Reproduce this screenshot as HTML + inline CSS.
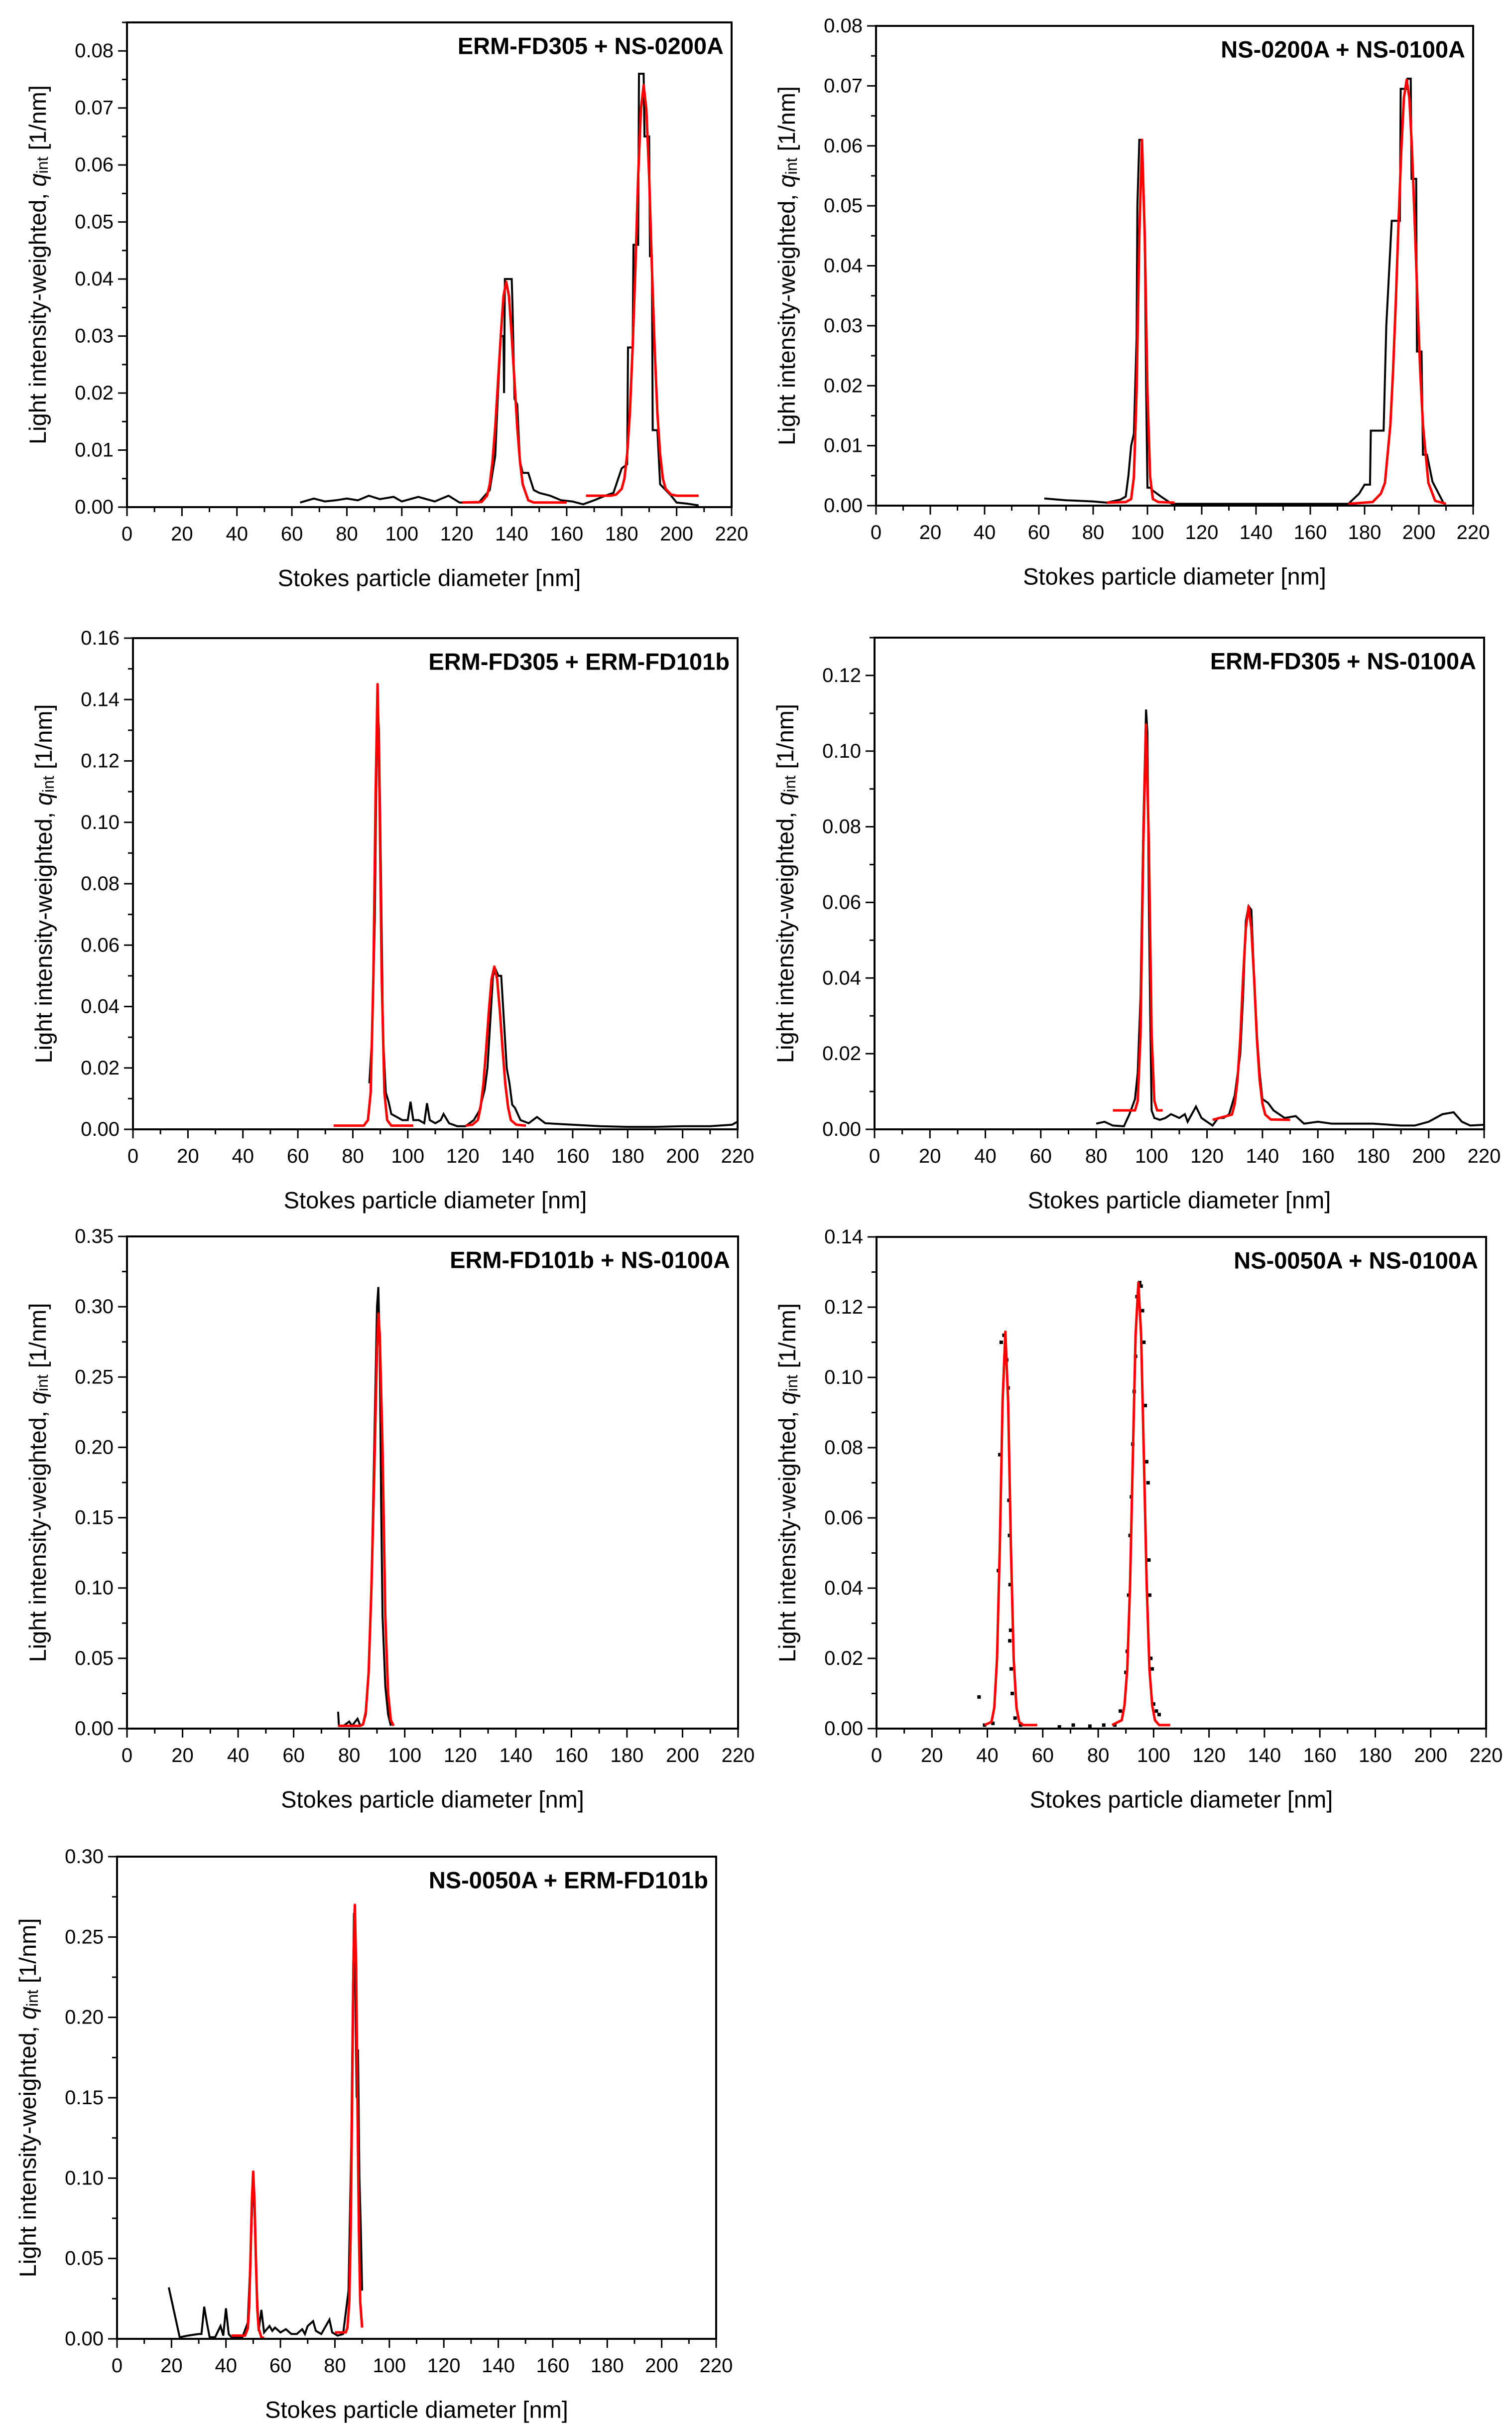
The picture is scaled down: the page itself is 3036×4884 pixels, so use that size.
<!DOCTYPE html>
<html><head><meta charset="utf-8">
<style>
html,body{margin:0;padding:0;background:#fff;}
svg{display:block;font-family:"Liberation Sans",Arial,sans-serif;}
</style></head>
<body>
<svg id="fig" width="3036" height="4884" viewBox="0 0 3036 4884" xmlns="http://www.w3.org/2000/svg"></svg>
<script>
// ---------- DATA (x = diameter nm, y = q_int 1/nm) ----------
const p1BlackX=[63,68,72,76,80,84,88,92,97,100,106,112,117,121,128,132,134,135,136,137,137.2,137.5,138,140,140.3,141,142,143,144,146,148,150,154,158,162,166,170,174,177,180,182,182.3,184,184.3,186,186.3,188,188.3,190,190.3,191,191.3,193,194,196,198,200,204,208];
const p1BlackY=[0.0008,0.0015,0.001,0.0012,0.0015,0.0012,0.002,0.0014,0.0018,0.001,0.0018,0.001,0.002,0.0008,0.0008,0.003,0.009,0.02,0.03,0.03,0.02,0.04,0.04,0.04,0.035,0.019,0.018,0.008,0.006,0.006,0.003,0.0025,0.002,0.0012,0.001,0.0005,0.0012,0.002,0.0025,0.0068,0.0075,0.028,0.028,0.046,0.046,0.076,0.076,0.065,0.065,0.044,0.044,0.0135,0.0135,0.004,0.003,0.002,0.0008,0.0006,0.0003];
const p1FitAX=[122,129,131,132,133,134,135,136,137,138,139,140,141,142,143,144,146,148,160];
const p1FitAY=[0.0008,0.0009,0.002,0.004,0.008,0.014,0.022,0.030,0.037,0.0395,0.037,0.030,0.022,0.014,0.008,0.004,0.0012,0.0008,0.0008];
const p1FitBX=[167,176,178,180,181,182,183,184,185,186,187,188,189,190,191,192,193,194,195,196,198,200,208];
const p1FitBY=[0.002,0.002,0.0022,0.0032,0.005,0.0093,0.0165,0.028,0.042,0.058,0.0697,0.074,0.0697,0.058,0.042,0.028,0.0165,0.0093,0.005,0.0032,0.0022,0.002,0.002];

const p2BlackX=[62,70,80,85,90,92,93,94,95,96,96.3,97,98,99,99.5,100,101,102,105,109,120,140,160,174,178,180,182,182.3,184,184.3,187,188,190,190.3,193,193.3,195.5,195.8,197,197.3,199,199.3,201,201.5,203,205,209];
const p2BlackY=[0.0012,0.0009,0.0007,0.0005,0.001,0.0015,0.005,0.01,0.012,0.028,0.05,0.061,0.061,0.045,0.02,0.003,0.003,0.0025,0.0015,0.0003,0.0003,0.0003,0.0003,0.0003,0.002,0.0035,0.0035,0.0125,0.0125,0.0125,0.0125,0.03,0.0475,0.0475,0.0475,0.0695,0.0695,0.0712,0.0712,0.0545,0.0545,0.0257,0.0257,0.0085,0.0085,0.004,0.0005];
const p2FitAX=[85,92,94,95,96,97,98,99,100,101,102,104,110];
const p2FitAY=[0.0005,0.0006,0.0011,0.0048,0.019,0.045,0.061,0.045,0.019,0.0048,0.0011,0.0006,0.0005];
const p2FitBX=[174,183,186,187.5,189.5,190.5,191.5,192.5,193.5,194.5,195.5,196.5,197.5,198.5,199.5,200.5,201.5,203.5,206,210];
const p2FitBY=[0.0003,0.0006,0.002,0.0038,0.0135,0.0225,0.034,0.047,0.059,0.068,0.071,0.068,0.059,0.047,0.034,0.0225,0.0135,0.0038,0.0008,0.0003];

const p3BlackX=[86,87,88,88.5,89,89.5,90,90.5,91,92,93,94,96,98,100,101,102,104,106,107,108,110,112,113,115,118,121,124,126,128,129,130,131,132,133,134,135,136,137,138,139,141,144,147,150,160,170,180,190,200,210,218,220];
const p3BlackY=[0.015,0.03,0.068,0.11,0.14,0.13,0.1,0.065,0.03,0.012,0.009,0.005,0.004,0.003,0.003,0.009,0.003,0.003,0.002,0.0085,0.003,0.002,0.003,0.005,0.002,0.001,0.001,0.003,0.006,0.013,0.02,0.035,0.05,0.052,0.05,0.05,0.035,0.02,0.015,0.008,0.007,0.003,0.002,0.004,0.002,0.0015,0.001,0.0008,0.0008,0.001,0.001,0.0015,0.0025];
const p3FitAX=[73,84,85.5,86.5,87.5,88.3,89,89.7,90.5,91.5,92.5,94,102];
const p3FitAY=[0.0012,0.0012,0.003,0.012,0.05,0.11,0.145,0.11,0.05,0.012,0.003,0.0012,0.0012];
const p3FitBX=[121,123.5,125.5,126.5,127.5,128.5,129.5,130.5,131.5,132.5,133.5,134.5,135.5,136.5,137.5,139.5,143];
const p3FitBY=[0.0012,0.0015,0.003,0.0072,0.0147,0.026,0.0385,0.049,0.053,0.049,0.0385,0.026,0.0147,0.0072,0.003,0.0015,0.0012];

const p4BlackX=[80,83,86,90,92,94,95,96,97,98,98.5,99,99.5,100,101,103,105,107,110,112,113,116,118,120,122,124,126,128,130,132,133,134,135,136,137,138,139,140,142,144,148,152,155,160,165,170,180,190,195,200,205,209,212,215,220];
const p4BlackY=[0.0015,0.002,0.001,0.0008,0.004,0.008,0.015,0.035,0.08,0.111,0.105,0.06,0.03,0.005,0.003,0.0025,0.003,0.004,0.003,0.004,0.002,0.006,0.003,0.002,0.001,0.003,0.003,0.004,0.009,0.02,0.035,0.055,0.059,0.058,0.04,0.025,0.015,0.008,0.007,0.005,0.003,0.0035,0.0015,0.002,0.0015,0.0015,0.0015,0.001,0.001,0.002,0.004,0.0045,0.002,0.001,0.0012];
const p4FitAX=[86,94,95,96,97,98,99,100,101,102,104];
const p4FitAY=[0.005,0.005,0.0075,0.025,0.0755,0.107,0.0755,0.025,0.0075,0.005,0.005];
const p4FitBX=[122,129,130,131,132,133,134,135,136,137,138,139,140,141,143,150];
const p4FitBY=[0.0025,0.0039,0.0068,0.013,0.024,0.04,0.053,0.059,0.053,0.04,0.024,0.013,0.0068,0.0039,0.0026,0.0025];

const p5BlackX=[76,76.3,78,80,81,83,84,85,86,87,88,89,90,90.5,91,91.5,92,93,94,95];
const p5BlackY=[0.012,0.002,0.002,0.005,0.002,0.007,0.002,0.003,0.01,0.04,0.1,0.2,0.3,0.314,0.27,0.16,0.08,0.03,0.01,0.002];
const p5FitX=[76,84,85,86,87,88,89,90,90.5,91,92,93,94,95,96];
const p5FitY=[0.002,0.002,0.003,0.012,0.04,0.1,0.18,0.27,0.295,0.28,0.2,0.08,0.025,0.006,0.002];

const p6DotsX=[37,39,42,44,44.5,45,46,47,47.5,47.8,48,48.2,48.4,48.1,48.6,49,50,52,66,71,77,82,86,88,90,90.5,91,91.5,92,92.5,93,93.5,94,95,95.5,96,96.5,97,97.5,98,98.3,98.6,99,99.5,100,101,102];
const p6DotsY=[0.009,0.001,0.0015,0.045,0.078,0.11,0.112,0.105,0.097,0.065,0.055,0.041,0.028,0.025,0.017,0.01,0.003,0.001,0.0005,0.001,0.0007,0.001,0.001,0.005,0.016,0.022,0.038,0.055,0.066,0.081,0.096,0.106,0.123,0.127,0.126,0.119,0.11,0.092,0.076,0.07,0.048,0.038,0.02,0.017,0.007,0.005,0.004];
const p6FitAX=[39,41.5,42.5,43.5,44.5,45.5,46.5,47.5,48.5,49.5,50.5,51.5,53,58];
const p6FitAY=[0.001,0.0019,0.006,0.02,0.052,0.093,0.113,0.093,0.052,0.02,0.006,0.0019,0.001,0.001];
const p6FitBX=[85,88.5,89.5,90.5,91.5,92.5,93.5,94.5,95.5,96.5,97.5,98.5,99.5,100.5,102,106];
const p6FitBY=[0.001,0.0024,0.0066,0.017,0.041,0.077,0.112,0.127,0.112,0.077,0.041,0.017,0.0066,0.0024,0.001,0.001];

const p7BlackX=[19,23,26,30,31,32,33,34,36,38,39,40,41,42,46,48,49,50,50.5,51,52,53,54,56,57,58,60,62,64,66,68,69,70,72,73,75,78,79,81,83,85,86,86.5,87,87.5,88,88.5,89,89.5,90];
const p7BlackY=[0.032,0.001,0.002,0.003,0.003,0.02,0.01,0.001,0.001,0.008,0.002,0.019,0.003,0.001,0.001,0.01,0.05,0.1,0.08,0.045,0.005,0.018,0.004,0.008,0.005,0.007,0.004,0.006,0.003,0.003,0.006,0.003,0.008,0.011,0.005,0.003,0.012,0.004,0.002,0.003,0.03,0.12,0.2,0.265,0.22,0.15,0.18,0.1,0.07,0.03];
const p7FitAX=[42,47,48,48.5,49,49.5,50,50.5,51,51.5,52,53,54];
const p7FitAY=[0.002,0.002,0.0064,0.019,0.049,0.085,0.104,0.085,0.049,0.019,0.0064,0.001,0.0005];
const p7FitBX=[80,84,84.6,85.3,85.8,86.3,86.8,87.3,87.8,88.3,88.8,89.3,90];
const p7FitBY=[0.004,0.004,0.007,0.023,0.068,0.146,0.232,0.27,0.232,0.146,0.068,0.023,0.007];

const panelTitles=["ERM-FD305 + NS-0200A","NS-0200A + NS-0100A","ERM-FD305 + ERM-FD101b","ERM-FD305 + NS-0100A","ERM-FD101b + NS-0100A","NS-0050A + NS-0100A","NS-0050A + ERM-FD101b"];
const yMaxes=[0.085,0.08,0.16,0.13,0.35,0.14,0.30];
const yMajorSteps=[0.01,0.01,0.02,0.02,0.05,0.02,0.05];
const xTicks=[0,20,40,60,80,100,120,140,160,180,200,220];

// ---------- LAYOUT (pixels) ----------
const layout=[
 {L:255,R:1469,T:45,B:1018},
 {L:1759,R:2958,T:52,B:1015},
 {L:267,R:1481,T:1281,B:2267},
 {L:1756,R:2980,T:1280,B:2267},
 {L:255,R:1482,T:2482,B:3470},
 {L:1760,R:2984,T:2483,B:3470},
 {L:235,R:1438,T:3727,B:4695}
];
const series=[
 {black:[p1BlackX,p1BlackY],fits:[[p1FitAX,p1FitAY],[p1FitBX,p1FitBY]]},
 {black:[p2BlackX,p2BlackY],fits:[[p2FitAX,p2FitAY],[p2FitBX,p2FitBY]]},
 {black:[p3BlackX,p3BlackY],fits:[[p3FitAX,p3FitAY],[p3FitBX,p3FitBY]]},
 {black:[p4BlackX,p4BlackY],fits:[[p4FitAX,p4FitAY],[p4FitBX,p4FitBY]]},
 {black:[p5BlackX,p5BlackY],fits:[[p5FitX,p5FitY]]},
 {dots:[p6DotsX,p6DotsY],fits:[[p6FitAX,p6FitAY],[p6FitBX,p6FitBY]]},
 {black:[p7BlackX,p7BlackY],fits:[[p7FitAX,p7FitAY],[p7FitBX,p7FitBY]]}
];
const NS="http://www.w3.org/2000/svg";
const svg=document.getElementById('fig');
function mk(tag,attrs,parent){const e=document.createElementNS(NS,tag);for(const k in attrs)e.setAttribute(k,attrs[k]);(parent||svg).appendChild(e);return e;}

layout.forEach((lay,i)=>{
  const g=mk('g',{});
  
  
  const xs=v=>lay.L+(v/220)*(lay.R-lay.L);
  const ys=v=>lay.B-(v/yMaxes[i])*(lay.B-lay.T);
  const st=yMajorSteps[i];
  const nMaj=Math.floor(yMaxes[i]/st+1e-6);
  for(let k=0;k<=nMaj*2+1;k++){
    const v=k*st/2; if(v>yMaxes[i]+1e-9) break;
    const y=ys(v); const major=k%2===0;
    const t=mk('line',{x1:lay.L-(major?18:10),x2:lay.L,y1:y,y2:y,stroke:'#000','stroke-width':3},g);
    
    
    if(major){
      const lb=mk('text',{x:lay.L-27,y:y,'font-size':40,'text-anchor':'end','dominant-baseline':'central',fill:'#000'},g);
      lb.textContent=v.toFixed(2);
      
      
    }
  }
  for(let v=0;v<=220;v+=10){
    const x=xs(v); const major=v%20===0;
    const t=mk('line',{x1:x,x2:x,y1:lay.B,y2:lay.B+(major?18:10),stroke:'#000','stroke-width':3},g);
    
    
  }
  xTicks.forEach(v=>{
    const lb=mk('text',{x:xs(v),y:lay.B+54,'font-size':40,'text-anchor':'middle','dominant-baseline':'central',fill:'#000'},g);
    lb.textContent=String(v);
    
    
  });
  const s=series[i];
  const pts=(X,Y)=>X.map((x,j)=>xs(x).toFixed(1)+','+ys(Y[j]).toFixed(1)).join(' ');
  if(s.black){
    const pl=mk('polyline',{points:pts(s.black[0],s.black[1]),fill:'none',stroke:'#000','stroke-width':4,'stroke-linejoin':'miter'},g);
    
    
  }
  if(s.dots){
    s.dots[0].forEach((x,j)=>{
      const r=mk('rect',{x:xs(x)-3.5,y:ys(s.dots[1][j])-3.5,width:7,height:7,fill:'#000'},g);
      
      
    });
  }
  s.fits.forEach(f=>{
    const pl=mk('polyline',{points:pts(f[0],f[1]),fill:'none',stroke:'#ff0000','stroke-width':5,'stroke-linejoin':'round'},g);
    
    
  });
  const fr=mk('rect',{x:lay.L,y:lay.T,width:lay.R-lay.L,height:lay.B-lay.T,fill:'none',stroke:'#000','stroke-width':4},g);
  
  
  const an=mk('text',{x:lay.R-16,y:lay.T+47,'font-size':47,'font-weight':'bold','text-anchor':'end','dominant-baseline':'central',fill:'#000'},g);
  an.textContent=panelTitles[i];
  
  
  const xt=mk('text',{x:(lay.L+lay.R)/2,y:lay.B+142,'font-size':47,'text-anchor':'middle','dominant-baseline':'central',fill:'#000'},g);
  xt.textContent='Stokes particle diameter [nm]';
  
  
  const cy=(lay.T+lay.B)/2, cx=lay.L-180;
  const yt=mk('text',{x:cx,y:cy,'font-size':47,'text-anchor':'middle','dominant-baseline':'central',fill:'#000',transform:'rotate(-90 '+cx+' '+cy+')'},g);
  
  
  const a=document.createElementNS(NS,'tspan');a.textContent='Light intensity-weighted, ';yt.appendChild(a);
  const b=document.createElementNS(NS,'tspan');b.setAttribute('font-style','italic');b.textContent='q';yt.appendChild(b);
  const c=document.createElementNS(NS,'tspan');c.setAttribute('font-size','32');c.setAttribute('dy','10');c.textContent='int';yt.appendChild(c);
  const d=document.createElementNS(NS,'tspan');d.setAttribute('dy','-10');d.textContent=' [1/nm]';yt.appendChild(d);
});
</script>
</body></html>
